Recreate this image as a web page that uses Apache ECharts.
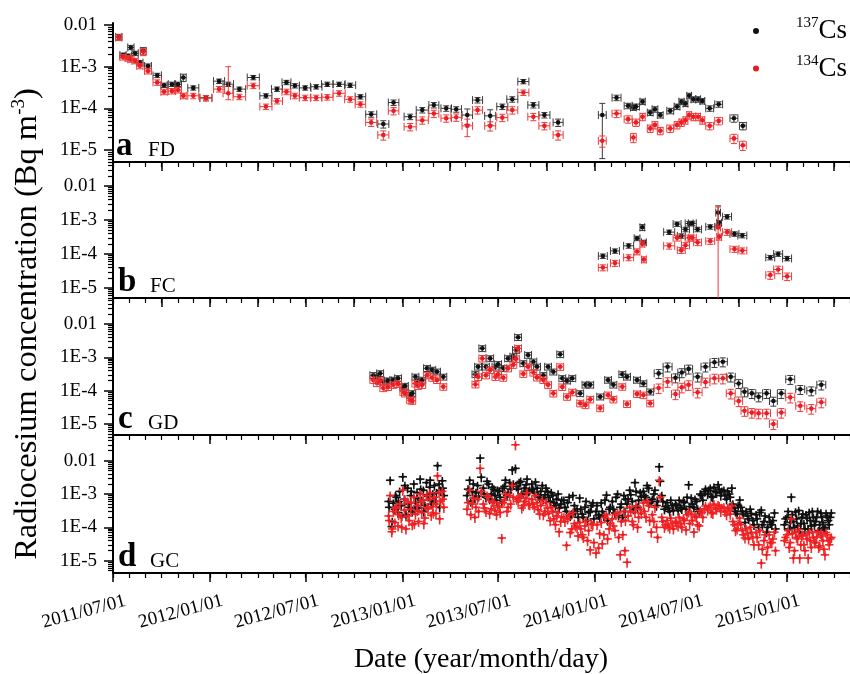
<!DOCTYPE html>
<html>
<head>
<meta charset="utf-8">
<script src="https://cdn.jsdelivr.net/npm/echarts@6/dist/echarts.min.js"></script>
<style>
  html, body { margin: 0; padding: 0; background: #fff; }
  #chart { width: 850px; height: 674px; }
</style>
</head>
<body>
<div id="chart"></div>
<script>
// ---------- Tick labels ----------
const dateTickLabels = ['2011/07/01', '2012/01/01', '2012/07/01', '2013/01/01', '2013/07/01', '2014/01/01', '2014/07/01', '2015/01/01'];
const concTickValues = [1e-5, 1e-4, 1e-3, 1e-2];
const concTickLabels = ['1E-5', '1E-4', '1E-3', '0.01'];

// ---------- a  FD : sampling periods, concentrations (Bq m-3), uncertainty (%) ----------
const fdStart = ['2011-07-06','2011-07-14','2011-07-24','2011-07-29','2011-08-06','2011-08-15','2011-08-22','2011-08-30','2011-09-15','2011-09-30',
  '2011-10-14','2011-10-26','2011-11-06','2011-11-20','2011-12-13','2012-01-08','2012-01-26','2012-02-14','2012-03-12','2012-04-05',
  '2012-04-27','2012-05-17','2012-06-02','2012-06-19','2012-07-10','2012-07-31','2012-08-22','2012-09-13','2012-10-03','2012-10-23',
  '2012-11-15','2012-12-05','2013-01-04','2013-01-27','2013-02-20','2013-03-15','2013-04-03','2013-04-24','2013-05-14','2013-06-06',
  '2013-06-29','2013-07-18','2013-08-08','2013-08-27','2013-09-17','2013-10-14','2014-01-08','2014-02-03','2014-02-26','2014-03-10',
  '2014-03-14','2014-03-28','2014-04-11','2014-04-20','2014-04-30','2014-05-18','2014-06-01','2014-06-10','2014-06-18','2014-06-25',
  '2014-07-03','2014-07-12','2014-07-20','2014-07-31','2014-08-17','2014-09-15','2014-10-03'];
const fdEnd = ['2011-07-17','2011-07-25','2011-08-04','2011-08-09','2011-08-17','2011-08-26','2011-09-01','2011-09-11','2011-09-30','2011-10-11',
  '2011-10-27','2011-11-07','2011-11-16','2011-12-10','2012-01-04','2012-01-28','2012-02-14','2012-03-08','2012-04-03','2012-04-27',
  '2012-05-17','2012-06-02','2012-06-18','2012-07-10','2012-07-31','2012-08-21','2012-09-13','2012-10-03','2012-10-22','2012-11-12',
  '2012-12-05','2012-12-24','2013-01-26','2013-02-18','2013-03-10','2013-04-03','2013-04-22','2013-05-13','2013-06-01','2013-06-26',
  '2013-07-19','2013-08-07','2013-08-28','2013-09-16','2013-10-07','2013-11-01','2014-01-22','2014-02-19','2014-03-12','2014-03-20',
  '2014-03-26','2014-04-06','2014-04-21','2014-04-30','2014-05-10','2014-05-30','2014-06-11','2014-06-19','2014-06-26','2014-07-03',
  '2014-07-11','2014-07-20','2014-07-28','2014-08-14','2014-08-31','2014-09-29','2014-10-15'];
const fdCs137 = [5.2e-3,1.9e-3,1.8e-3,2.9e-3,2.1e-3,1.25e-3,2.4e-3,1.04e-3,6.2e-4,3.6e-4,
  3.8e-4,3.8e-4,5.5e-4,3.1e-4,1.8e-4,4.5e-4,3.8e-4,2.9e-4,5.5e-4,2.0e-4,
  2.9e-4,4.2e-4,3.5e-4,3.1e-4,3.3e-4,3.8e-4,3.8e-4,3.6e-4,1.9e-4,7.2e-5,
  4.2e-5,1.38e-4,6.3e-5,9.1e-5,1.2e-4,1.0e-4,9.5e-5,6.9e-5,1.58e-4,6.6e-5,
  1.1e-4,1.65e-4,4.4e-4,1.2e-4,6.9e-5,4.6e-5,6.9e-5,1.8e-4,1.15e-4,1.05e-4,
  1.1e-4,1.45e-4,7.9e-5,9.5e-5,6.9e-5,8.7e-5,1.1e-4,1.45e-4,1.3e-4,2.0e-4,
  1.65e-4,1.65e-4,1.5e-4,1.0e-4,1.25e-4,5.8e-5,3.8e-5];
const fdCs134 = [5.0e-3,1.7e-3,1.6e-3,1.5e-3,1.38e-3,1.05e-3,2.3e-3,7.9e-4,4.2e-4,2.5e-4,
  2.6e-4,2.75e-4,2.0e-4,2.0e-4,1.75e-4,2.9e-4,2.3e-4,1.9e-4,3.5e-4,1.1e-4,
  1.5e-4,2.5e-4,2.0e-4,1.8e-4,1.8e-4,1.85e-4,2.3e-4,1.65e-4,1.25e-4,4.6e-5,
  2.3e-5,8.7e-5,3.6e-5,5.2e-5,7.5e-5,5.8e-5,6.1e-5,3.8e-5,9.1e-5,3.8e-5,
  6.0e-5,9.1e-5,2.4e-4,6.3e-5,3.8e-5,2.3e-5,1.67e-5,7.5e-5,5.5e-5,2.0e-5,
  4.6e-5,6.3e-5,3.3e-5,4.0e-5,2.9e-5,3.3e-5,4.0e-5,4.6e-5,5.2e-5,6.9e-5,
  6.3e-5,6.3e-5,5.2e-5,3.8e-5,5.0e-5,1.9e-5,1.3e-5];
const fdErr137 = [15,12,12,12,12,12,20,12,12,12, 12,12,20,12,12,12,12,12,12,12, 12,12,12,12,12,12,12,12,12,15,
  20,15,15,15,15,15,15,40,15,40, 15,15,12,15,15,20,91,15,15,15, 15,15,15,15,15,15,15,15,15,15, 15,15,15,15,15,20,20];
const fdErr134 = [15,15,15,15,15,15,20,15,15,15, 15,15,15,15,15,15,[30,335],15,15,15, 15,15,15,15,15,15,15,15,15,20,
  25,20,20,20,20,20,20,45,20,25, 20,20,15,20,20,25,30,20,20,25, 20,20,20,20,20,20,20,20,20,20, 20,20,20,20,20,25,25];

// ---------- b  FC ----------
const fcStart = ['2014-01-08','2014-01-31','2014-02-25','2014-03-17','2014-03-28','2014-03-31','2014-05-12','2014-05-30','2014-06-07','2014-06-15','2014-06-22',
  '2014-06-28','2014-07-08','2014-07-31','2014-08-19','2014-08-21','2014-09-01','2014-09-15','2014-09-30','2014-11-22','2014-12-07','2014-12-24'];
const fcEnd = ['2014-01-24','2014-02-16','2014-03-15','2014-03-27','2014-04-05','2014-04-08','2014-06-01','2014-06-13','2014-06-21','2014-06-29','2014-07-06',
  '2014-07-12','2014-07-22','2014-08-16','2014-08-27','2014-08-29','2014-09-17','2014-10-01','2014-10-16','2014-12-08','2014-12-23','2015-01-09'];
const fcCs137 = [8.7e-5,1.23e-4,1.74e-4,2.9e-4,6.1e-4,2.2e-4,4.4e-4,7.6e-4,3.4e-4,5.3e-4,7.9e-4,
  8.0e-4,5.3e-4,6.3e-4,1.65e-3,8.3e-4,1.25e-3,3.9e-4,3.5e-4,7.9e-5,1.0e-4,7.4e-5];
const fcCs134 = [4.0e-5,5.4e-5,7.9e-5,1.18e-4,2.0e-4,6.9e-5,1.74e-4,3.0e-4,1.3e-4,1.8e-4,3.0e-4,
  3.0e-4,2.2e-4,2.4e-4,6.0e-4,3.2e-4,4.4e-4,1.4e-4,1.26e-4,2.4e-5,3.5e-5,2.2e-5];
const fcErr137 = [15,15,15,15,20,15,15,15,15,15,15, 15,15,15,58,15,15,15,15,15,15,15];
const fcErr134 = [20,20,20,20,20,20,20,20,20,20,20, 20,20,20,[99.9,300],20,20,20,20,25,25,25];

// ---------- c  GD ----------
const gdStart = ['2012-10-31','2012-11-07','2012-11-13','2012-11-19','2012-11-28','2012-12-08','2012-12-17','2012-12-27','2012-12-30','2013-01-09',
  '2013-01-13','2013-01-19','2013-01-24','2013-02-01','2013-02-10','2013-02-20','2013-03-01','2013-03-13','2013-05-13','2013-05-18',
  '2013-05-26','2013-06-02','2013-06-10','2013-06-20','2013-06-25','2013-07-05','2013-07-14','2013-07-24','2013-07-29','2013-08-02',
  '2013-08-12','2013-08-21','2013-08-31','2013-09-07','2013-09-19','2013-09-28','2013-10-08','2013-10-21','2013-10-25','2013-11-03',
  '2013-11-13','2013-11-28','2013-12-08','2013-12-17','2014-01-05','2014-01-20','2014-01-30','2014-02-16','2014-02-25','2014-03-16',
  '2014-03-28','2014-04-10',
  '2014-04-24','2014-05-11','2014-05-27','2014-06-08','2014-06-21','2014-07-07','2014-07-22','2014-08-08','2014-08-24','2014-09-08',
  '2014-09-24','2014-10-06','2014-10-19','2014-11-01','2014-11-16','2014-11-29','2014-12-14','2014-12-30','2015-01-18','2015-02-08','2015-02-27'];
const gdEnd = ['2012-11-12','2012-11-19','2012-11-25','2012-12-01','2012-12-10','2012-12-20','2012-12-29','2013-01-08','2013-01-11','2013-01-21',
  '2013-01-25','2013-01-31','2013-02-05','2013-02-13','2013-02-22','2013-03-04','2013-03-13','2013-03-25','2013-05-25','2013-05-30',
  '2013-06-07','2013-06-14','2013-06-22','2013-07-02','2013-07-07','2013-07-17','2013-07-26','2013-08-05','2013-08-10','2013-08-14',
  '2013-08-24','2013-09-02','2013-09-12','2013-09-19','2013-10-01','2013-10-10','2013-10-20','2013-11-02','2013-11-06','2013-11-15',
  '2013-11-25','2013-12-10','2013-12-20','2013-12-29','2014-01-17','2014-02-01','2014-02-11','2014-02-28','2014-03-09','2014-03-28',
  '2014-04-09','2014-04-22',
  '2014-05-10','2014-05-27','2014-06-10','2014-06-22','2014-07-05','2014-07-23','2014-08-07','2014-08-24','2014-09-09','2014-09-24',
  '2014-10-08','2014-10-18','2014-11-02','2014-11-15','2014-11-30','2014-12-13','2014-12-28','2015-01-15','2015-02-03','2015-02-24','2015-03-15'];
const gdCs137 = [2.9e-4,2.6e-4,3.3e-4,1.85e-4,2.0e-4,2.1e-4,2.35e-4,1.26e-4,1.38e-4,7.4e-5,
  8.3e-5,2.6e-4,1.9e-4,2.1e-4,4.7e-4,4.2e-4,3.7e-4,2.6e-4,3.1e-4,5.2e-4,
  1.86e-3,5.2e-4,9.3e-4,5.2e-4,6.2e-4,4.7e-4,9.3e-4,1.05e-3,1.66e-3,4.0e-3,
  6.6e-4,1.17e-3,7.4e-4,5.2e-4,2.9e-4,5.2e-4,3.7e-4,1.23e-3,2.35e-4,2.0e-4,
  2.35e-4,8.3e-5,1.5e-4,1.5e-4,6.6e-5,2.1e-4,1.5e-4,3.1e-4,2.6e-4,2.1e-4,
  1.65e-4,9.3e-5,
  3.3e-4,5.2e-4,2.45e-4,3.5e-4,4.5e-4,2.6e-4,5.2e-4,7.1e-4,7.4e-4,2.6e-4,
  1.65e-4,9.3e-5,8.3e-5,6.6e-5,8.3e-5,4.9e-5,8.3e-5,2.2e-4,1.1e-4,1.0e-4,1.5e-4];
const gdCs134 = [2.1e-4,1.7e-4,2.0e-4,1.2e-4,1.3e-4,1.5e-4,1.6e-4,9.3e-5,8.3e-5,5.2e-5,
  5.0e-5,1.65e-4,1.4e-4,1.5e-4,2.9e-4,2.45e-4,2.1e-4,1.32e-4,1.55e-4,2.6e-4,
  9.3e-4,2.9e-4,4.2e-4,2.6e-4,3.1e-4,2.45e-4,4.7e-4,6.0e-4,9.0e-4,1.86e-3,
  3.2e-4,5.2e-4,3.5e-4,2.5e-4,2.1e-4,1.5e-4,8.3e-5,5.2e-4,1.3e-4,6.6e-5,
  9.0e-5,4.2e-5,3.7e-5,5.5e-5,3.0e-5,7.4e-5,5.5e-5,1.32e-4,4.0e-5,8.0e-5,
  7.4e-5,4.2e-5,
  1.2e-4,1.85e-4,7.9e-5,1.26e-4,1.5e-4,8.9e-5,1.8e-4,2.35e-4,2.35e-4,8.3e-5,
  4.9e-5,2.5e-5,2.2e-5,2.1e-5,2.1e-5,1.0e-5,2.2e-5,6.3e-5,3.5e-5,2.9e-5,4.5e-5];
const gdErr137 = 20, gdErr134 = 22, gdBoxErr137 = 30, gdBoxErr134 = 32, gdBoxFrom = '2014-04-24';

// ---------- d  GC : sample dates, concentrations ----------
const gcDates = [
  '2012-12-05','2012-12-08','2012-12-11','2012-12-14','2012-12-17','2012-12-20','2012-12-23','2012-12-26','2012-12-29',
  '2013-01-01','2013-01-04','2013-01-07','2013-01-10','2013-01-13','2013-01-16','2013-01-19','2013-01-22','2013-01-25','2013-01-28','2013-01-31',
  '2013-02-03','2013-02-06','2013-02-09','2013-02-12','2013-02-15','2013-02-18','2013-02-21','2013-02-24','2013-02-27',
  '2013-03-02','2013-03-05','2013-03-08','2013-03-11','2013-03-14','2013-03-17','2013-03-20',
  '2013-05-03','2013-05-08','2013-05-13','2013-05-18','2013-05-23','2013-05-28',
  '2013-06-03','2013-06-08','2013-06-13','2013-06-18','2013-06-23','2013-06-28',
  '2013-07-03','2013-07-08','2013-07-13','2013-07-18','2013-07-23','2013-07-28',
  '2013-08-03','2013-08-08','2013-08-13','2013-08-18','2013-08-23','2013-08-28',
  '2013-09-03','2013-09-08','2013-09-13','2013-09-18','2013-09-23','2013-09-28',
  '2013-10-03','2013-10-08','2013-10-13','2013-10-18','2013-10-23','2013-10-28',
  '2013-11-03','2013-11-08','2013-11-13','2013-11-18','2013-11-23','2013-11-28',
  '2013-12-03','2013-12-08','2013-12-13','2013-12-18','2013-12-23','2013-12-28',
  '2014-01-03','2014-01-08','2014-01-13','2014-01-18','2014-01-23','2014-01-28',
  '2014-02-03','2014-02-08','2014-02-13','2014-02-18','2014-02-23','2014-02-28',
  '2014-03-03','2014-03-08','2014-03-13','2014-03-18','2014-03-23','2014-03-28',
  '2014-04-03','2014-04-08','2014-04-13','2014-04-18','2014-04-23','2014-04-28',
  '2014-05-03','2014-05-08','2014-05-13','2014-05-18','2014-05-23','2014-05-28',
  '2014-06-03','2014-06-08','2014-06-13','2014-06-18','2014-06-23','2014-06-28',
  '2014-07-03','2014-07-08','2014-07-13','2014-07-18','2014-07-23','2014-07-28',
  '2014-08-03','2014-08-08','2014-08-13','2014-08-18','2014-08-23','2014-08-28',
  '2014-09-03','2014-09-08','2014-09-13','2014-09-18','2014-09-23','2014-09-28',
  '2014-10-03','2014-10-08','2014-10-13','2014-10-18','2014-10-23','2014-10-28',
  '2014-11-03','2014-11-08','2014-11-13','2014-11-18','2014-11-23','2014-11-28',
  '2014-12-03','2014-12-08',
  '2014-12-27','2015-01-01','2015-01-05','2015-01-09','2015-01-13','2015-01-17','2015-01-21','2015-01-25','2015-01-29',
  '2015-02-02','2015-02-06','2015-02-10','2015-02-14','2015-02-18','2015-02-22','2015-02-26',
  '2015-03-02','2015-03-06','2015-03-10','2015-03-14','2015-03-18','2015-03-22','2015-03-26',
  // interleaved samples
  '2012-12-06','2012-12-12','2012-12-18','2012-12-24','2012-12-30','2013-01-05','2013-01-11','2013-01-17','2013-01-23',
  '2013-01-29','2013-02-04','2013-02-10','2013-02-16','2013-02-22','2013-02-28','2013-03-06','2013-03-12','2013-03-18',
  '2013-05-05','2013-05-10','2013-05-15','2013-05-20','2013-05-25','2013-05-30',
  '2013-06-05','2013-06-10','2013-06-15','2013-06-20','2013-06-25','2013-06-30',
  '2013-07-05','2013-07-10','2013-07-15','2013-07-20','2013-07-25','2013-07-30',
  '2013-08-05','2013-08-10','2013-08-15','2013-08-20','2013-08-25','2013-08-30',
  '2013-09-05','2013-09-10','2013-09-15','2013-09-20','2013-09-25','2013-09-30',
  '2013-10-05','2013-10-10','2013-10-15','2013-10-20','2013-10-25','2013-10-30',
  '2013-11-05','2013-11-10','2013-11-15','2013-11-20','2013-11-25','2013-11-30',
  '2013-12-05','2013-12-10','2013-12-15','2013-12-20','2013-12-25','2013-12-30',
  '2014-01-05','2014-01-10','2014-01-15','2014-01-20','2014-01-25','2014-01-30',
  '2014-02-05','2014-02-10','2014-02-15','2014-02-20','2014-02-25','2014-02-27',
  '2014-03-05','2014-03-10','2014-03-15','2014-03-20','2014-03-25','2014-03-30',
  '2014-04-05','2014-04-10','2014-04-15','2014-04-20','2014-04-25','2014-04-30',
  '2014-05-05','2014-05-10','2014-05-15','2014-05-20','2014-05-25','2014-05-30',
  '2014-06-05','2014-06-10','2014-06-15','2014-06-20','2014-06-25','2014-06-30',
  '2014-07-05','2014-07-10','2014-07-15','2014-07-20','2014-07-25','2014-07-30',
  '2014-08-05','2014-08-10','2014-08-15','2014-08-20','2014-08-25','2014-08-30',
  '2014-09-05','2014-09-10','2014-09-15','2014-09-20','2014-09-25','2014-09-30',
  '2014-10-05','2014-10-10','2014-10-15','2014-10-20','2014-10-25','2014-10-30',
  '2014-11-05','2014-11-10','2014-11-15','2014-11-20','2014-11-25','2014-11-30',
  '2014-12-05','2014-12-10',
  '2014-12-29','2015-01-03','2015-01-07','2015-01-11','2015-01-15','2015-01-19','2015-01-23','2015-01-27','2015-01-31',
  '2015-02-04','2015-02-08','2015-02-12','2015-02-16','2015-02-20','2015-02-24','2015-02-28',
  '2015-03-04','2015-03-08','2015-03-12','2015-03-16','2015-03-20','2015-03-24'];
const gcCs137 = [
  6.0e-4,2.6e-3,1.05e-4,5.3e-4,3.5e-4,8.0e-4,2.8e-4,1.2e-3,4.5e-4,
  3.3e-3,7.0e-4,2.4e-4,1.5e-3,4.0e-4,9.0e-4,3.0e-4,2.0e-3,5.5e-4,1.1e-3,3.8e-4,
  2.8e-3,6.5e-4,1.3e-3,4.5e-4,2.2e-3,8.5e-4,1.6e-3,5.0e-4,1.0e-3,
  1.8e-3,6.0e-4,7.1e-3,2.0e-3,1.3e-3,2.5e-3,9.0e-4,
  9.0e-4,2.6e-3,1.2e-3,7.5e-4,1.8e-3,1.2e-2,
  1.5e-3,8.0e-4,2.0e-3,1.0e-3,1.4e-3,6.5e-4,
  1.2e-3,5.5e-4,1.7e-3,9.0e-4,2.2e-3,5.3e-3,
  5.9e-3,1.4e-3,2.4e-3,1.0e-3,1.9e-3,1.2e-3,
  2.0e-3,1.1e-3,1.5e-3,8.0e-4,1.8e-3,9.5e-4,
  1.2e-3,6.0e-4,9.0e-4,4.5e-4,1.0e-3,5.0e-4,
  6.5e-4,3.0e-4,8.0e-4,2.5e-4,4.5e-4,3.5e-4,
  7.6e-4,2.5e-4,4.0e-4,1.6e-4,3.0e-4,5.4e-4,
  3.0e-4,2.4e-4,5.4e-4,2.2e-4,9.3e-4,3.5e-4,
  6.0e-4,2.7e-4,1.0e-3,4.0e-4,2.0e-4,7.0e-4,
  5.0e-4,1.3e-3,6.0e-4,2.2e-3,4.0e-4,1.1e-3,
  1.2e-3,8.0e-4,1.5e-3,6.0e-4,1.0e-3,4.5e-4,
  6.6e-3,9.0e-4,3.5e-4,5.5e-4,3.0e-4,4.5e-4,
  5.0e-4,3.2e-4,4.0e-4,6.0e-4,3.5e-4,1.9e-3,
  7.6e-4,4.0e-4,6.0e-4,3.0e-4,9.0e-4,1.2e-3,
  1.0e-3,1.5e-3,8.0e-4,1.2e-3,1.9e-3,9.0e-4,
  1.3e-3,7.0e-4,1.0e-3,1.5e-3,3.8e-4,2.5e-4,
  6.6e-4,3.0e-4,1.4e-4,2.2e-4,3.5e-4,1.6e-4,
  2.4e-4,1.0e-4,3.3e-4,1.5e-4,7.2e-5,2.0e-4,
  1.2e-4,2.7e-4,
  1.2e-4,2.0e-4,9.0e-5,8.1e-4,1.5e-4,2.9e-4,1.1e-4,7.2e-5,2.0e-4,
  1.3e-4,2.4e-4,9.0e-5,1.6e-4,3.0e-4,1.2e-4,2.0e-4,
  8.0e-5,2.7e-4,1.4e-4,1.0e-4,2.2e-4,1.2e-4,2.7e-4,
  4.0e-4,1.5e-4,9.0e-4,6.0e-4,2.2e-4,1.8e-3,5.0e-4,1.2e-3,3.5e-4,
  7.5e-4,1.4e-3,3.0e-4,9.5e-4,2.6e-3,6.0e-4,1.1e-3,4.0e-4,1.5e-3,
  1.4e-3,6.0e-4,2.0e-3,1.1e-3,8.5e-4,3.2e-3,
  1.0e-3,2.4e-3,7.0e-4,1.6e-3,9.0e-4,1.3e-3,
  8.0e-4,1.5e-3,2.6e-3,1.1e-3,1.4e-3,2.0e-3,
  1.7e-3,2.2e-3,1.0e-3,1.5e-3,2.8e-3,1.3e-3,
  1.4e-3,2.3e-3,9.0e-4,1.2e-3,7.0e-4,1.5e-3,
  8.0e-4,1.1e-3,5.5e-4,7.0e-4,3.8e-4,6.5e-4,
  4.0e-4,5.5e-4,2.2e-4,9.0e-4,3.0e-4,2.0e-4,
  3.5e-4,2.0e-4,6.0e-4,2.8e-4,4.5e-4,1.8e-4,
  4.5e-4,2.0e-4,3.0e-4,6.5e-4,1.6e-4,4.0e-4,
  3.5e-4,8.0e-4,2.3e-4,5.0e-4,9.0e-4,3.0e-4,
  7.0e-4,9.5e-4,3.5e-4,1.2e-3,6.5e-4,8.5e-4,
  9.0e-4,1.8e-3,5.5e-4,7.0e-4,1.3e-3,6.0e-4,
  2.4e-3,6.0e-4,4.2e-4,3.8e-4,6.5e-4,3.2e-4,
  4.5e-4,6.5e-4,3.6e-4,5.5e-4,8.0e-4,4.2e-4,
  5.0e-4,7.0e-4,3.5e-4,1.0e-3,6.5e-4,1.4e-3,
  1.3e-3,8.5e-4,1.6e-3,1.1e-3,1.4e-3,1.2e-3,
  9.0e-4,1.2e-3,8.0e-4,5.0e-4,3.0e-4,4.5e-4,
  4.0e-4,2.5e-4,3.0e-4,1.8e-4,2.6e-4,1.2e-4,
  1.8e-4,2.8e-4,1.2e-4,2.2e-4,1.0e-4,1.4e-4,
  1.6e-4,9.0e-5,
  1.8e-4,3.0e-4,1.4e-4,2.4e-4,1.0e-4,1.8e-4,3.2e-4,1.3e-4,2.5e-4,
  9.0e-5,1.9e-4,2.8e-4,1.1e-4,2.0e-4,1.5e-4,3.0e-4,
  1.2e-4,2.0e-4,9.0e-5,2.6e-4,1.6e-4,2.0e-4];
const gcCs134 = [
  2.2e-4,9.0e-4,7.4e-5,3.0e-4,1.4e-4,4.0e-4,1.1e-4,5.0e-4,2.0e-4,
  1.3e-3,3.3e-4,9.0e-5,6.0e-4,1.6e-4,3.5e-4,1.2e-4,8.0e-4,2.5e-4,4.5e-4,1.5e-4,
  1.0e-3,2.8e-4,6.5e-4,1.9e-4,9.0e-4,3.6e-4,7.0e-4,2.3e-4,4.2e-4,
  8.0e-4,2.6e-4,3.5e-3,1.1e-3,6.0e-4,1.2e-3,4.0e-4,
  3.5e-4,1.3e-3,5.0e-4,2.0e-4,7.0e-4,5.9e-3,
  5.0e-4,3.0e-4,8.0e-4,3.6e-4,5.5e-4,2.4e-4,
  4.0e-4,4.8e-5,6.5e-4,3.0e-4,9.0e-4,1.8e-3,
  3.0e-2,6.0e-4,9.0e-4,4.5e-4,7.5e-4,5.0e-4,
  7.0e-4,4.0e-4,5.5e-4,2.5e-4,6.5e-4,3.0e-4,
  3.8e-4,1.6e-4,3.0e-4,1.2e-4,2.8e-4,1.5e-4,
  2.0e-4,2.9e-5,2.4e-4,9.0e-5,1.3e-4,1.0e-4,
  1.4e-4,6.0e-5,1.1e-4,4.0e-5,2.1e-5,1.2e-4,
  1.7e-5,2.4e-5,1.4e-4,6.0e-5,2.4e-4,9.0e-5,
  1.8e-4,8.0e-5,2.7e-4,1.5e-5,6.0e-5,1.6e-4,
  9.0e-6,4.0e-4,1.5e-4,2.8e-4,1.0e-4,3.5e-4,
  5.4e-4,2.0e-4,4.5e-4,7.2e-5,1.5e-4,1.0e-4,
  2.6e-3,2.0e-4,1.0e-4,1.6e-4,9.5e-5,1.3e-4,
  1.5e-4,1.1e-4,1.3e-4,1.8e-4,8.4e-5,2.9e-4,
  2.5e-4,7.2e-5,2.0e-4,1.1e-4,2.8e-4,3.6e-4,
  3.3e-4,4.5e-4,2.6e-4,3.8e-4,4.7e-4,3.0e-4,
  4.0e-4,2.4e-4,3.3e-4,4.5e-4,1.2e-4,9.0e-5,
  1.9e-4,8.0e-5,4.8e-5,6.5e-5,1.0e-4,5.0e-5,
  7.0e-5,3.0e-5,8.5e-6,4.0e-5,1.5e-5,6.0e-5,
  3.5e-5,7.2e-5,
  4.0e-5,6.0e-5,2.5e-5,1.8e-4,1.2e-5,7.2e-5,4.5e-5,1.2e-5,5.5e-5,
  3.0e-5,6.0e-5,1.2e-5,4.0e-5,7.0e-5,3.5e-5,5.0e-5,
  2.5e-5,6.5e-5,4.0e-5,1.5e-5,6.0e-5,3.0e-5,5.0e-5,
  1.6e-4,9.0e-5,3.8e-4,2.4e-4,1.0e-4,7.0e-4,2.2e-4,5.5e-4,1.3e-4,
  3.2e-4,6.0e-4,1.3e-4,4.0e-4,1.1e-3,2.7e-4,5.0e-4,1.8e-4,7.0e-4,
  5.5e-4,2.4e-4,7.5e-4,4.0e-4,3.0e-4,1.2e-3,
  3.8e-4,9.0e-4,2.6e-4,6.0e-4,3.2e-4,4.5e-4,
  2.8e-4,5.5e-4,1.0e-3,4.0e-4,5.0e-4,8.0e-4,
  7.0e-4,8.0e-4,3.8e-4,6.0e-4,1.1e-3,4.8e-4,
  5.0e-4,9.0e-4,3.4e-4,4.5e-4,2.4e-4,5.5e-4,
  2.6e-4,4.0e-4,1.8e-4,2.2e-4,7.4e-5,2.0e-4,
  1.5e-4,1.8e-4,7.0e-5,2.8e-4,1.1e-4,5.5e-5,
  9.0e-5,5.0e-5,1.6e-4,8.0e-5,1.3e-4,3.5e-5,
  1.2e-4,6.5e-5,3.2e-5,2.0e-4,4.5e-5,1.3e-4,
  1.1e-4,2.4e-4,5.0e-5,1.5e-4,3.0e-4,2.0e-5,
  2.2e-4,3.0e-4,1.2e-4,4.4e-4,2.0e-4,2.6e-4,
  3.0e-4,6.0e-4,1.6e-4,2.4e-4,4.0e-4,5.0e-5,
  8.0e-4,1.5e-4,1.2e-4,1.1e-4,1.9e-4,9.0e-5,
  1.4e-4,2.0e-4,1.0e-4,1.6e-4,2.4e-4,1.3e-4,
  1.6e-4,2.2e-4,1.2e-4,3.2e-4,2.0e-4,4.4e-4,
  4.0e-4,2.8e-4,5.0e-4,3.5e-4,4.4e-4,3.9e-4,
  3.0e-4,3.8e-4,2.5e-4,1.5e-4,8.0e-5,1.3e-4,
  1.2e-4,6.0e-5,9.0e-5,4.5e-5,7.0e-5,3.0e-5,
  5.0e-5,8.0e-5,2.2e-5,6.0e-5,2.5e-5,3.5e-5,
  4.5e-5,2.0e-5,
  5.0e-5,8.0e-5,3.5e-5,6.5e-5,2.0e-5,5.0e-5,8.5e-5,3.0e-5,6.0e-5,
  2.0e-5,4.5e-5,7.0e-5,2.5e-5,5.0e-5,3.5e-5,7.5e-5,
  2.8e-5,5.5e-5,2.2e-5,7.0e-5,4.0e-5,4.5e-5];
const gcHalfDays = 8, gcErr137 = 30, gcErr134 = 32;

// ---------- helpers ----------
const DAY = 86400000;
const toTime = s => Date.UTC(+s.slice(0, 4), +s.slice(5, 7) - 1, +s.slice(8, 10));
const SERIF = '"Liberation Serif", "Times New Roman", serif';
const X_MIN = toTime('2011-07-01'), X_MAX = toTime('2015-05-01');

function bounds(v, e) {
  const lo = Array.isArray(e) ? e[0] : e, hi = Array.isArray(e) ? e[1] : e;
  return [v * (1 - lo / 100), v * (1 + hi / 100)];
}
// one item per sample: [centre time, value, period start, period end, lower, upper]
function periodItems(starts, ends, vals, errs) {
  return vals.map((v, i) => {
    const a = toTime(starts[i]), b = toTime(ends[i]) + DAY;
    const e = typeof errs === 'function' ? errs(i) : errs[i];
    const [lo, hi] = bounds(v, e);
    return [(a + b) / 2, v, a, b, lo, hi];
  });
}
function dateItems(dates, vals, halfDays, err) {
  return vals.map((v, i) => {
    const t = toTime(dates[i]) + DAY / 2;
    const [lo, hi] = bounds(v, err);
    return [t, v, t - halfDays * DAY, t + halfDays * DAY, lo, hi];
  });
}

const BLACK = { dot: '#111111', bar: '#3a3a3a', r: 2.3, cap: 3, width: 1 };
const RED = { dot: '#ec1c24', bar: '#ef3a3a', r: 2.3, cap: 3, width: 1 };
const BLACK_GC = { dot: '#111111', bar: '#111111', r: 1.6, cap: 0, width: 1.6 };
const RED_GC = { dot: '#ee1c22', bar: '#f02a2a', r: 1.6, cap: 0, width: 1.6 };

function renderer(st) {
  return function (params, api) {
    const x = api.value(0), y = api.value(1);
    const c = api.coord([x, y]);
    const xl = api.coord([api.value(2), y])[0];
    const xr = api.coord([api.value(3), y])[0];
    const yb = api.coord([x, api.value(4)])[1];
    const yt = api.coord([x, api.value(5)])[1];
    const seg = (x1, y1, x2, y2) => ({ type: 'line', shape: { x1, y1, x2, y2 }, style: { stroke: st.bar, lineWidth: st.width } });
    const kids = [seg(xl, c[1], xr, c[1]), seg(c[0], yt, c[0], yb)];
    const k = st.cap;
    if (k) {
      kids.push(seg(xl, c[1] - k - 1, xl, c[1] + k + 1), seg(xr, c[1] - k - 1, xr, c[1] + k + 1),
        seg(c[0] - k, yt, c[0] + k, yt), seg(c[0] - k, yb, c[0] + k, yb));
    }
    kids.push({ type: 'circle', shape: { cx: c[0], cy: c[1], r: st.r }, style: { fill: st.dot } });
    return { type: 'group', children: kids };
  };
}

// ---------- panels ----------
const PLOT_LEFT = 113, PLOT_WIDTH = 737;
const panels = [
  { top: 23, height: 139, yMin: 5.15e-6, yMax: 1.12e-2, majorMonths: 3, letter: 'a', site: 'FD', lx: 116, sx: 148 },
  { top: 162, height: 136, yMin: 5.08e-6, yMax: 5.08e-2, majorMonths: 3, letter: 'b', site: 'FC', lx: 118, sx: 150 },
  { top: 298, height: 137, yMin: 4.68e-6, yMax: 6.03e-2, majorMonths: 6, letter: 'c', site: 'GD', lx: 118, sx: 148 },
  { top: 435, height: 138, yMin: 4.28e-6, yMax: 5.9e-2, majorMonths: 6, letter: 'd', site: 'GC', lx: 118, sx: 150 },
];

const gdBoxStart = toTime(gdBoxFrom);
const seriesData = [
  [periodItems(fdStart, fdEnd, fdCs137, fdErr137), periodItems(fdStart, fdEnd, fdCs134, fdErr134), BLACK, RED],
  [periodItems(fcStart, fcEnd, fcCs137, fcErr137), periodItems(fcStart, fcEnd, fcCs134, fcErr134), BLACK, RED],
  [periodItems(gdStart, gdEnd, gdCs137, i => toTime(gdStart[i]) >= gdBoxStart ? gdBoxErr137 : gdErr137),
   periodItems(gdStart, gdEnd, gdCs134, i => toTime(gdStart[i]) >= gdBoxStart ? gdBoxErr134 : gdErr134), BLACK, RED],
  [dateItems(gcDates, gcCs137, gcHalfDays, gcErr137), dateItems(gcDates, gcCs134, gcHalfDays, gcErr134), BLACK_GC, RED_GC],
];

// month starts for the minor ticks
const monthStarts = [];
for (let y = 2011, m = 6; Date.UTC(y, m, 1) <= X_MAX; ) {
  monthStarts.push(Date.UTC(y, m, 1));
  if (++m === 12) { m = 0; y++; }
}
const minorConc = [];
for (let e = -6; e <= -1; e++) for (let k = 2; k <= 9; k++) minorConc.push(k * Math.pow(10, e));

const labelTimes = dateTickLabels.map(s => toTime(s.replace(/\//g, '-')));

const grid = [], xAxis = [], yAxis = [], series = [], graphic = [];
panels.forEach((p, g) => {
  const last = g === panels.length - 1;
  grid.push({ left: PLOT_LEFT, width: PLOT_WIDTH, top: p.top, height: p.height, containLabel: false });
  const majors = monthStarts.filter((t, i) => i % p.majorMonths === 0);
  xAxis.push({
    type: 'value', gridIndex: g, min: X_MIN, max: X_MAX, position: 'bottom',
    axisLine: { show: true, onZero: false, lineStyle: { color: '#000', width: 2 } },
    axisTick: { show: true, customValues: majors, length: 9, lineStyle: { color: '#000', width: 1.5 } },
    axisLabel: last ? {
      show: true, customValues: labelTimes, rotate: 15, align: 'center', verticalAlign: 'middle', margin: 31,
      fontFamily: SERIF, fontSize: 19, color: '#000',
      formatter: v => '{t|' + dateTickLabels[labelTimes.indexOf(v)] + '}{s|}',
      rich: { t: { fontFamily: SERIF, fontSize: 19, color: '#000' }, s: { width: 60 } }
    } : { show: false },
    splitLine: { show: false }
  });
  xAxis.push({
    type: 'value', gridIndex: g, min: X_MIN, max: X_MAX, position: 'bottom',
    axisLine: { show: false, onZero: false },
    axisTick: { show: true, customValues: monthStarts, length: 5, lineStyle: { color: '#000', width: 1.2 } },
    axisLabel: { show: false }, splitLine: { show: false }
  });
  yAxis.push({
    type: 'log', logBase: 10, gridIndex: g, min: p.yMin, max: p.yMax, position: 'left',
    axisLine: { show: true, onZero: false, lineStyle: { color: '#000', width: 2 } },
    axisTick: { show: true, customValues: concTickValues, length: 9, lineStyle: { color: '#000', width: 1.5 } },
    axisLabel: {
      show: true, customValues: concTickValues, margin: 16, fontFamily: SERIF, fontSize: 19, color: '#000',
      formatter: v => concTickLabels[Math.round(Math.log10(v)) + 5]
    },
    splitLine: { show: false }
  });
  yAxis.push({
    type: 'log', logBase: 10, gridIndex: g, min: p.yMin, max: p.yMax, position: 'left',
    axisLine: { show: false, onZero: false },
    axisTick: { show: true, customValues: minorConc, length: 5, lineStyle: { color: '#000', width: 1.2 } },
    axisLabel: { show: false }, splitLine: { show: false }
  });
  const [d137, d134, st137, st134] = seriesData[g];
  [['137Cs', d137, st137], ['134Cs', d134, st134]].forEach(([name, data, st]) => {
    series.push({
      type: 'custom', name, xAxisIndex: 2 * g, yAxisIndex: 2 * g, clip: true, silent: true,
      itemStyle: { color: st.dot }, encode: { x: 0, y: 1 },
      renderItem: renderer(st), data
    });
  });
  const base = p.top + p.height - 6;
  graphic.push({ type: 'text', x: p.lx, y: base - 9.6, style: { text: p.letter, font: 'bold 33px ' + SERIF, fill: '#000', align: 'left', verticalAlign: 'middle' } });
  graphic.push({ type: 'text', x: p.sx, y: base - 6, style: { text: p.site, font: '21px ' + SERIF, fill: '#000', align: 'left', verticalAlign: 'middle' } });
});

graphic.push({
  type: 'text', x: 27, y: 324, rotation: Math.PI / 2,
  style: {
    text: '{t|Radiocesium concentration (Bq m}{s|-3}{t|)}', align: 'center', verticalAlign: 'middle',
    rich: {
      t: { fontFamily: SERIF, fontSize: 32.5, lineHeight: 35, fill: '#000' },
      s: { fontFamily: SERIF, fontSize: 19, lineHeight: 18, verticalAlign: 'top', fill: '#000' }
    }
  }
});
graphic.push({
  type: 'text', x: 481, y: 660,
  style: { text: 'Date (year/month/day)', font: '28px ' + SERIF, fill: '#000', align: 'center', verticalAlign: 'middle' }
});

const chart = echarts.init(document.getElementById('chart'), null, { renderer: 'canvas' });
chart.setOption({
  animation: false,
  backgroundColor: '#fff',
  legend: {
    data: [{ name: '137Cs', icon: 'circle' }, { name: '134Cs', icon: 'circle' }],
    orient: 'vertical', left: 748, top: 11, itemWidth: 70, itemHeight: 6, itemGap: 9, selectedMode: false,
    formatter: n => '{sup|' + n.slice(0, 3) + '}{cs|Cs}',
    textStyle: {
      rich: {
        sup: { fontFamily: SERIF, fontSize: 15, lineHeight: 16, verticalAlign: 'top', color: '#000' },
        cs: { fontFamily: SERIF, fontSize: 27, lineHeight: 30, color: '#000' }
      }
    }
  },
  grid, xAxis, yAxis, series, graphic
});
</script>
</body>
</html>
